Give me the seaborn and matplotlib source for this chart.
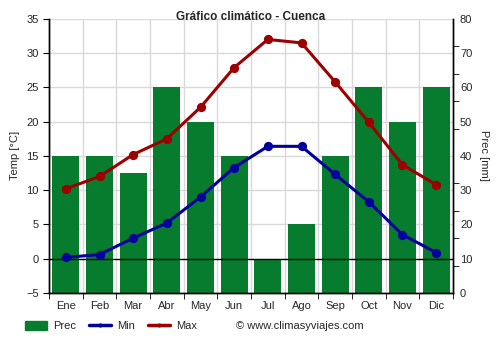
import numpy as np
import pandas as pd
import matplotlib
matplotlib.use("Agg")
import matplotlib.pyplot as plt
from matplotlib.patches import Patch
from matplotlib.lines import Line2D
from matplotlib.ticker import MultipleLocator, FixedLocator
import seaborn as sns

months = ["Ene", "Feb", "Mar", "Abr", "May", "Jun", "Jul", "Ago", "Sep", "Oct", "Nov", "Dic"]
prec = [40, 40, 35, 60, 50, 40, 10, 20, 40, 60, 50, 60]
tmin = [0.2, 0.6, 3.0, 5.2, 9.0, 13.3, 16.4, 16.4, 12.3, 8.3, 3.5, 0.9]
tmax = [10.2, 12.0, 15.2, 17.5, 22.1, 27.9, 32.0, 31.5, 25.8, 19.9, 13.7, 10.8]

df = pd.DataFrame({"Mes": months, "Prec": prec, "Min": tmin, "Max": tmax})

sns.set_style("white")
plt.rcParams["font.family"] = ["Liberation Sans", "DejaVu Sans"]
plt.rcParams["font.size"] = 8

GREEN = "#077c2f"
BLUE = "#00009c"
RED = "#9c0000"

fig = plt.figure(figsize=(5, 3.5), dpi=100)
ax = fig.add_axes([0.098, 0.163, 0.808, 0.783])
ax2 = ax.twinx()

# bars on the secondary (precipitation) axis, drawn behind
sns.barplot(data=df, x="Mes", y="Prec", ax=ax2, color=GREEN, saturation=1,
            width=0.8, edgecolor=GREEN, linewidth=0)
ax2.set_ylim(0, 80)
ax2.set_ylabel("Prec [mm]", rotation=270, labelpad=12)
ax2.yaxis.set_major_locator(MultipleLocator(10))
ax2.yaxis.set_minor_locator(MultipleLocator(8))
ax2.tick_params(axis="y", which="major", length=0, pad=5, labelsize=8)
ax2.tick_params(axis="y", which="minor", length=4, color="black", right=True)

ax2.grid(False)
for v in np.arange(0, 81, 10):
    ax2.axhline(v, color="#d9d9d9", lw=1, zorder=0)
for v in np.arange(0.5, 11, 1):
    ax2.axvline(v, color="#d9d9d9", lw=1, zorder=0)
ax2.set_axisbelow(True)

# temperature lines on the front axis
ax.set_zorder(ax2.get_zorder() + 1)
ax.patch.set_visible(False)
sns.pointplot(data=df, x="Mes", y="Min", ax=ax, color=BLUE, markers="o",
              linestyles="-", markersize=5, linewidth=2.2)
sns.pointplot(data=df, x="Mes", y="Max", ax=ax, color=RED, markers="o",
              linestyles="-", markersize=5, linewidth=2.2)
ax.axhline(0, color="black", lw=1, zorder=1)
ax.set_ylim(-5, 35)
ax.set_xlim(-0.5, 11.5)
ax.yaxis.set_major_locator(MultipleLocator(5))
ax.set_ylabel("Temp [°C]", labelpad=4)
ax.set_xlabel("")
ax2.set_xlabel("")
ax.text(0.5, 1.006, "Gráfico climático - Cuenca", transform=ax.transAxes,
        fontsize=8.5, fontweight="bold", ha="center", va="center", zorder=5)

ax.xaxis.set_minor_locator(FixedLocator(np.arange(-0.5, 12, 1)))
ax.tick_params(axis="x", which="major", length=0, pad=6, labelsize=8)
ax.tick_params(axis="x", which="minor", length=4, color="black", bottom=True)
ax.tick_params(axis="y", which="major", length=4, color="black", left=True, labelsize=8)

for a in (ax, ax2):
    a.spines["top"].set_visible(False)
    for s in ("left", "right", "bottom"):
        a.spines[s].set_color("black")
        a.spines[s].set_linewidth(1)

handles = [
    Patch(facecolor=GREEN, edgecolor=GREEN),
    Line2D([0], [0], color=BLUE, lw=2.5, marker="o", markersize=2),
    Line2D([0], [0], color=RED, lw=2.5, marker="o", markersize=2),
]
fig.legend(handles, ["Prec", "Min", "Max"], loc="center left",
           bbox_to_anchor=(0.05, 0.068), ncol=3, frameon=False,
           fontsize=8, handlelength=2.0, handleheight=0.9, columnspacing=1.2,
           handletextpad=0.5, borderpad=0, borderaxespad=0)
fig.text(0.472, 0.068, "© www.climasyviajes.com", fontsize=8, va="center", ha="left")

fig.savefig("out.png", dpi=100)
